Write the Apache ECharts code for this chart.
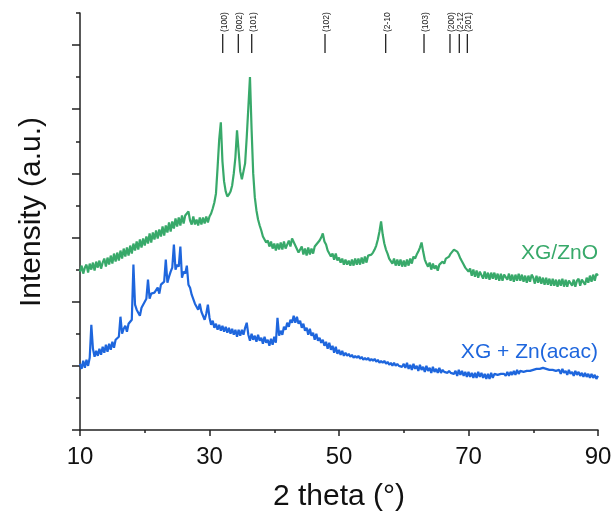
<!DOCTYPE html>
<html>
<head>
<meta charset="utf-8">
<title>XRD patterns</title>
<script src="https://cdn.jsdelivr.net/npm/echarts@6/dist/echarts.min.js"></script>
<style>
  html, body { margin: 0; padding: 0; background: #ffffff; }
  #chart { width: 613px; height: 514px; }
</style>
</head>
<body>
<div id="chart"></div>
<script>
// Scan grid: 2θ from 10° to 90° in 0.25° steps
const angleStart = 10;
const angleStep = 0.25;

// XG/ZnO intensities (a.u.), four readings per degree
const znoCounts = [
  158,164,156,162, 165,157,166,160, 167,159,168,162, 169,161,167,171,
  163,172,165,174, 166,176,168,177, 169,179,171,181, 173,182,174,184,
  176,186,179,188, 180,190,182,191, 184,193,186,196, 187,197,190,199,
  191,200,193,203, 194,204,197,207, 198,208,201,211, 203,212,204,214,
  206,214,213,218, 209,205,213,205, 210,204,212,205, 212,206,213,207,
  213,216,221,227, 236,262,290,307, 268,248,238,233, 235,238,244,256,
  272,299,278,258, 250,251,266,292, 322,352,300,256, 232,219,210,204,
  199,193,193,187, 189,183,188,181, 186,179,186,180, 187,180,188,181,
  182,189,183,191, 191,184,184,177, 180,183,175,181, 174,182,175,181,
  176,183,184,187, 189,192,196,188, 185,179,179,173, 176,170,176,169,
  172,167,171,165, 170,165,169,164, 170,164,171,165, 171,165,172,166,
  173,167,174,174, 175,177,180,184, 190,198,208,195, 186,180,176,171,
  172,166,171,164, 170,164,170,163, 169,163,170,164, 171,166,173,171,
  175,178,182,187, 178,170,166,163, 167,160,166,161, 164,159,165,164,
  168,166,171,170, 173,176,178,180, 181,178,175,171, 168,165,162,160,
  158,161,154,160, 153,159,152,158, 157,151,158,151, 157,150,157,151,
  157,150,156,149, 156,149,155,154, 150,156,149,155, 148,155,149,156,
  149,155,148,154, 147,154,148,155, 152,146,154,147, 153,146,152,145,
  152,145,151,144, 151,144,150,143, 150,144,151,143, 150,143,149,148,
  144,150,143,149, 151,144,150,149, 145,152,147,154, 148,155,149,156,
  154
];

// XG + Zn(acac) intensities (a.u.), same grid
const acacCounts = [
  66,61,69,62, 70,64,72,105, 81,73,79,74, 81,75,83,77,
  85,78,86,80, 88,82,90,91, 93,113,96,101, 104,98,106,105,
  110,165,125,120, 120,114,122,123, 128,131,150,131, 136,135,137,138,
  142,136,145,145, 148,170,147,153, 158,162,185,160, 165,163,183,152,
  158,156,164,145, 142,135,135,126, 127,120,126,118, 118,110,116,125,
  112,105,109,102, 106,100,105,99, 104,98,103,97, 102,96,101,95,
  100,93,100,94, 100,95,102,107, 95,89,96,90, 94,88,95,89,
  92,86,93,87, 90,84,91,85, 93,87,112,94, 99,95,103,100,
  107,103,110,107, 114,107,113,106, 109,102,106,99, 102,95,101,94,
  97,90,96,89, 92,87,90,84, 88,81,87,80, 84,77,83,76,
  80,75,79,74, 77,74,76,73, 75,72,74,72, 74,71,73,70,
  72,70,72,69, 71,69,71,68, 70,67,69,67, 69,66,68,65,
  67,64,67,64, 66,64,65,63, 66,62,67,61, 65,60,66,61,
  64,59,65,60, 63,58,64,59, 62,57,63,58, 61,57,62,57,
  60,58,59,57, 59,57,58,56, 59,54,60,55, 59,54,58,53,
  58,53,57,52, 57,52,58,53, 57,52,56,51, 56,51,57,52,
  56,55,55,54, 56,55,56,54, 58,54,58,55, 59,55,60,56,
  59,59,58,58, 59,59,59,60, 60,60,61,61, 61,61,62,62,
  61,61,60,60, 60,60,59,59, 60,56,61,57, 59,55,60,56,
  58,54,59,55, 58,54,57,53, 57,53,56,52, 56,52,55,51,
  54
];

// ZnO reflection markers
const hklPositions = [32.04, 34.45, 36.52, 47.84, 57.21, 63.13, 67.14, 68.58, 69.82];
const hklLabels = ['(100)', '(002)', '(101)', '(102)', '(2-10', '(103)', '(200)', '(2-12', '(201)'];

// Axis ticks
const xTicks = [10, 30, 50, 70, 90];
const yMajorTicks = [0, 64, 128, 192, 256, 320, 384];
const yMinorTicks = [32, 96, 160, 224, 288, 352, 416];

const GREEN = '#38a96a';
const BLUE = '#1e66dd';
const AXIS = '#222222';
const FONT = '"Liberation Sans", Arial, sans-serif';

function toPairs(values) {
  return values.map((v, i) => [angleStart + angleStep * i, v]);
}

const chart = echarts.init(document.getElementById('chart'), null, { renderer: 'canvas' });

const option = {
  animation: false,
  backgroundColor: '#ffffff',
  grid: { left: 80, right: 15, top: 13, bottom: 84, containLabel: false, outerBoundsMode: 'none' },
  xAxis: {
    type: 'value',
    min: 10,
    max: 90,
    interval: 20,
    name: '2 theta (°)',
    nameLocation: 'middle',
    nameGap: 52,
    nameTextStyle: { fontSize: 30, color: '#111', fontFamily: FONT },
    axisLine: { lineStyle: { color: AXIS, width: 1.5 } },
    axisTick: { length: 6, lineStyle: { color: AXIS, width: 1.5 }, customValues: xTicks },
    minorTick: { show: true, splitNumber: 2, length: 3, lineStyle: { color: AXIS, width: 1.5 } },
    axisLabel: { fontSize: 24, color: '#111', fontFamily: FONT, margin: 15, customValues: xTicks },
    splitLine: { show: false }
  },
  yAxis: [
    {
      type: 'value',
      min: 0,
      max: 416,
      axisLine: { show: true, onZero: false, lineStyle: { color: AXIS, width: 1.5 } },
      axisTick: { show: true, length: 8, lineStyle: { color: AXIS, width: 1.5 }, customValues: yMajorTicks },
      axisLabel: { show: false },
      splitLine: { show: false }
    },
    {
      type: 'value',
      min: 0,
      max: 416,
      position: 'left',
      offset: 0,
      axisLine: { show: false },
      axisTick: { show: true, length: 4, lineStyle: { color: AXIS, width: 1.5 }, customValues: yMinorTicks },
      axisLabel: { show: false },
      splitLine: { show: false }
    }
  ],
  series: [
    {
      name: 'XG/ZnO',
      type: 'line',
      data: toPairs(znoCounts),
      showSymbol: false,
      lineStyle: { color: GREEN, width: 2.2 },
      z: 3
    },
    {
      name: 'XG + Zn(acac)',
      type: 'line',
      data: toPairs(acacCounts),
      showSymbol: false,
      lineStyle: { color: BLUE, width: 2.2 },
      z: 3
    },
    {
      name: 'ZnO reflections',
      type: 'custom',
      data: hklPositions.map((p, i) => [p, i]),
      encode: { x: 0 },
      renderItem: function (params, api) {
        const x = api.value(0);
        const idx = api.value(1);
        const lo = api.coord([x, 376]);
        const hi = api.coord([x, 395]);
        return {
          type: 'group',
          children: [
            {
              type: 'line',
              shape: { x1: lo[0], y1: lo[1], x2: hi[0], y2: hi[1] },
              style: { stroke: '#222', lineWidth: 1.3 }
            },
            {
              type: 'text',
              x: hi[0] + 1.5,
              y: hi[1] - 2,
              rotation: Math.PI / 2,
              style: {
                text: hklLabels[idx],
                fontSize: 8.5,
                fontFamily: FONT,
                fill: '#222',
                align: 'left',
                verticalAlign: 'middle'
              }
            }
          ]
        };
      },
      z: 4
    }
  ],
  graphic: [
    {
      type: 'text',
      x: 32,
      y: 212,
      rotation: Math.PI / 2,
      style: {
        text: 'Intensity (a.u.)',
        fontSize: 30,
        fontFamily: FONT,
        fill: '#111',
        align: 'center',
        verticalAlign: 'middle'
      }
    },
    {
      type: 'text',
      right: 15,
      top: 243,
      style: { text: 'XG/ZnO', fontSize: 21, fontFamily: FONT, fill: GREEN }
    },
    {
      type: 'text',
      right: 15,
      top: 342,
      style: { text: 'XG + Zn(acac)', fontSize: 21, fontFamily: FONT, fill: BLUE }
    }
  ]
};

chart.setOption(option);
</script>
</body>
</html>
